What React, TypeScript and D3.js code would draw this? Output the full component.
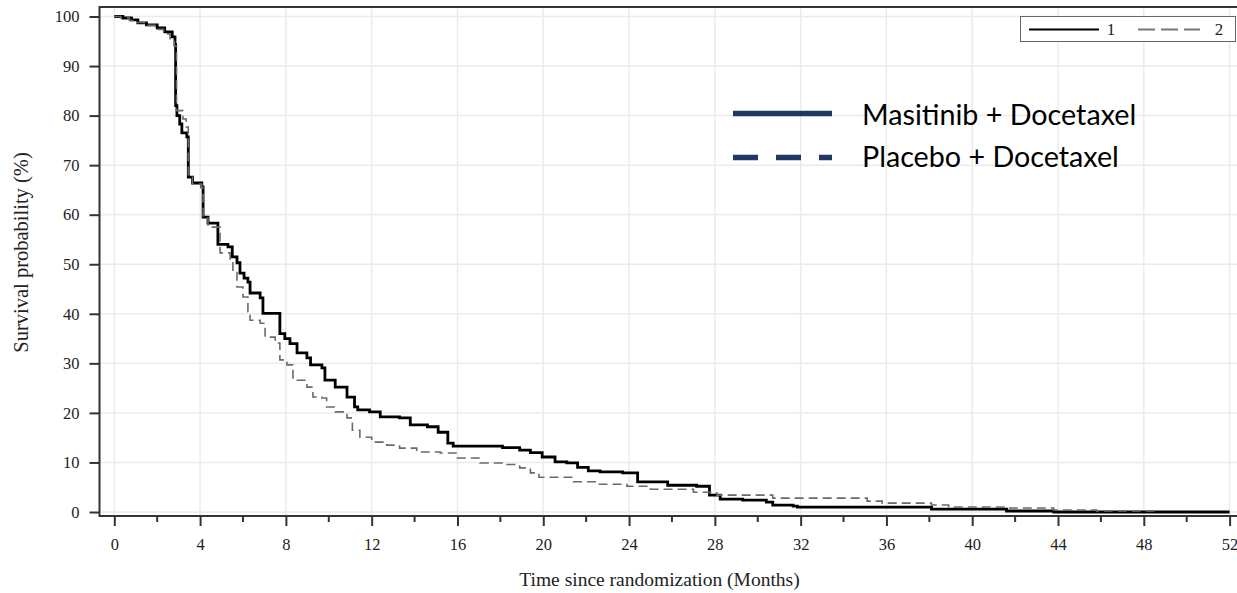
import { useRef, useEffect } from 'react';
import * as d3 from 'd3';

// Kaplan-Meier steps (months, survival %)
const masTime = [0, 0.4, 0.8, 1.1, 1.5, 2.0, 2.35, 2.7, 2.83, 2.86, 2.92, 3.05, 3.15, 3.38, 3.45, 3.65, 4.08, 4.14, 4.37, 4.83, 5.3, 5.5, 5.72, 5.86, 6.05, 6.23, 6.33, 6.8, 6.93, 7.72, 7.95, 8.19, 8.52, 8.98, 9.15, 9.68, 9.82, 10.3, 10.85, 11.2, 11.35, 11.9, 12.4, 13.3, 13.8, 14.6, 15.1, 15.55, 15.8, 18.1, 18.9, 19.4, 19.95, 20.55, 21.1, 21.6, 22.1, 22.65, 23.7, 24.4, 25.8, 27.15, 27.75, 28.25, 29.3, 30.4, 30.7, 31.65, 31.85, 38.1, 41.6, 43.8, 52];
const masSurv = [100, 99.7, 99.3, 98.7, 98.3, 97.7, 96.9, 95.9, 94.3, 82, 80, 78.3, 76.5, 75.7, 67.6, 66.4, 65.6, 59.5, 58.3, 54, 53.5, 51.5, 50.3, 48.2, 47.2, 46.4, 44.2, 43.2, 40.1, 36, 35, 34, 32.1, 31.1, 29.7, 29.1, 26.6, 25.2, 23.2, 21.2, 20.6, 20.2, 19.2, 19.0, 17.6, 17.2, 16.1, 13.9, 13.3, 13.0, 12.5, 12.0, 11.1, 10.1, 9.9, 9.0, 8.3, 8.1, 7.9, 6.1, 5.4, 5.2, 3.4, 2.6, 2.4, 2.0, 1.4, 1.2, 1.0, 0.6, 0.2, 0, 0];

const pboTime = [0, 0.3, 0.7, 1.0, 1.4, 1.9, 2.3, 2.6, 2.8, 2.9, 3.2, 3.35, 3.45, 3.65, 4.08, 4.14, 4.37, 4.93, 5.4, 5.53, 5.72, 6.0, 6.23, 6.33, 6.8, 7.03, 7.5, 7.72, 8.05, 8.33, 8.98, 9.26, 9.68, 9.9, 10.3, 10.85, 11.1, 11.45, 12.0, 12.7, 13.3, 14.1, 15.2, 16.0, 17.05, 18.2, 18.9, 19.4, 19.8, 21.4, 22.5, 23.9, 25.0, 27.0, 27.8, 28.1, 30.7, 35.1, 35.8, 38.1, 38.9, 41.6, 43.8, 45.8, 48.5];
const pboSurv = [100, 99.7, 99.2, 98.8, 98.2, 97.4, 96.5, 95.5, 94.0, 81.0, 79.3, 77.7, 68.0, 66.2, 65.4, 59.3, 57.5, 52.3, 50.5, 48.8, 45.4, 43.4, 40.4, 38.7, 38.1, 35.3, 34.1, 30.7, 29.7, 26.6, 25.2, 23.2, 23.0, 21.2, 20.2, 19.0, 16.5, 15.1, 14.1, 13.5, 12.9, 12.1, 11.9, 10.9, 9.9, 9.6, 8.9, 7.9, 7.0, 6.1, 5.6, 5.2, 4.6, 4.0, 3.8, 3.4, 2.8, 2.2, 1.8, 1.4, 1.0, 0.8, 0.4, 0.2, 0.2];

const xTickValues = [0, 4, 8, 12, 16, 20, 24, 28, 32, 36, 40, 44, 48, 52];
const xMinorValues = [2, 6, 10, 14, 18, 22, 26, 30, 34, 38, 42, 46, 50];
const yTickValues = [0, 10, 20, 30, 40, 50, 60, 70, 80, 90, 100];
const groupLabels = ['1', '2'];
const armLabels = ['Masitinib + Docetaxel', 'Placebo + Docetaxel'];

const SERIF = '"Liberation Serif", "Times New Roman", serif';
const NAVY = '#203864';

function SurvivalChart() {
  const svgRef = useRef<SVGSVGElement>(null);
  const width = 1237;
  const height = 593;

  useEffect(() => {
    const svg = d3.select(svgRef.current);
    svg.selectAll('*').remove();

    const frame = { left: 99.5, top: 7, right: 1237, bottom: 516 };

    const x = d3.scaleLinear().domain([0, 52]).range([114.3, 1229.6]);
    const y = d3.scaleLinear().domain([0, 100]).range([512, 16.5]);

    // grid
    svg
      .append('g')
      .selectAll('line')
      .data(xTickValues)
      .join('line')
      .attr('x1', (d) => x(d))
      .attr('x2', (d) => x(d))
      .attr('y1', frame.top)
      .attr('y2', frame.bottom)
      .attr('stroke', '#ebebeb')
      .attr('stroke-width', 1.5);

    svg
      .append('g')
      .selectAll('line')
      .data(yTickValues)
      .join('line')
      .attr('x1', frame.left)
      .attr('x2', frame.right)
      .attr('y1', (d) => y(d))
      .attr('y2', (d) => y(d))
      .attr('stroke', '#ebebeb')
      .attr('stroke-width', 1.5);

    // curves
    const line = d3
      .line<[number, number]>()
      .x((d) => x(d[0]))
      .y((d) => y(d[1]))
      .curve(d3.curveStepAfter);

    const mas = masTime.map((t, i) => [t, masSurv[i]] as [number, number]);
    const pbo = pboTime.map((t, i) => [t, pboSurv[i]] as [number, number]);

    svg
      .append('path')
      .datum(mas)
      .attr('d', line)
      .attr('fill', 'none')
      .attr('stroke', '#000')
      .attr('stroke-width', 2.8);

    svg
      .append('path')
      .datum(pbo)
      .attr('d', line)
      .attr('fill', 'none')
      .attr('stroke', '#6a6a6a')
      .attr('stroke-width', 1.6)
      .attr('stroke-dasharray', '9,5');

    // axes
    const xAxis = svg
      .append('g')
      .attr('transform', `translate(0,${frame.bottom})`)
      .call(
        d3
          .axisBottom(x)
          .tickValues(xTickValues)
          .tickSize(10)
          .tickPadding(12)
          .tickSizeOuter(0)
      );
    xAxis.select('.domain').remove();
    xAxis.selectAll('line').attr('stroke', '#333').attr('stroke-width', 2);
    xAxis
      .selectAll('text')
      .attr('font-family', SERIF)
      .attr('font-size', 16.5)
      .attr('fill', '#222');

    svg
      .append('g')
      .selectAll('line')
      .data(xMinorValues)
      .join('line')
      .attr('x1', (d) => x(d))
      .attr('x2', (d) => x(d))
      .attr('y1', frame.bottom)
      .attr('y2', frame.bottom + 6)
      .attr('stroke', '#333')
      .attr('stroke-width', 2);

    const yAxis = svg
      .append('g')
      .attr('transform', `translate(${frame.left},0)`)
      .call(
        d3
          .axisLeft(y)
          .tickValues(yTickValues)
          .tickSize(10)
          .tickPadding(10)
          .tickSizeOuter(0)
      );
    yAxis.select('.domain').remove();
    yAxis.selectAll('line').attr('stroke', '#333').attr('stroke-width', 2);
    yAxis
      .selectAll('text')
      .attr('font-family', SERIF)
      .attr('font-size', 16.5)
      .attr('fill', '#222');

    // frame
    svg
      .append('path')
      .attr(
        'd',
        `M${frame.right},${frame.top}H${frame.left}V${frame.bottom}H${frame.right}`
      )
      .attr('fill', 'none')
      .attr('stroke', '#333')
      .attr('stroke-width', 2);

    // axis titles
    svg
      .append('text')
      .attr('x', 659.5)
      .attr('y', 586)
      .attr('text-anchor', 'middle')
      .attr('font-family', SERIF)
      .attr('font-size', 19.5)
      .attr('fill', '#222')
      .text('Time since randomization (Months)');

    svg
      .append('text')
      .attr('transform', 'translate(28,252.5) rotate(-90)')
      .attr('text-anchor', 'middle')
      .attr('font-family', SERIF)
      .attr('font-size', 20.5)
      .attr('fill', '#222')
      .text('Survival probability (%)');

    // small SAS legend box
    const box = svg.append('g');
    box
      .append('rect')
      .attr('x', 1020.5)
      .attr('y', 16.5)
      .attr('width', 215)
      .attr('height', 25)
      .attr('fill', '#fff')
      .attr('stroke', '#666')
      .attr('stroke-width', 1);
    box
      .append('line')
      .attr('x1', 1029)
      .attr('x2', 1099)
      .attr('y1', 29.5)
      .attr('y2', 29.5)
      .attr('stroke', '#000')
      .attr('stroke-width', 2);
    box
      .append('line')
      .attr('x1', 1138)
      .attr('x2', 1200)
      .attr('y1', 29.5)
      .attr('y2', 29.5)
      .attr('stroke', '#777')
      .attr('stroke-width', 2)
      .attr('stroke-dasharray', '17,6');
    box
      .selectAll('text')
      .data(groupLabels)
      .join('text')
      .attr('x', (d, i) => [1111, 1219][i])
      .attr('y', 34.5)
      .attr('text-anchor', 'middle')
      .attr('font-family', SERIF)
      .attr('font-size', 17)
      .attr('fill', '#222')
      .text((d) => d);

    // overlaid treatment legend
    const leg = svg.append('g');
    leg
      .append('line')
      .attr('x1', 733)
      .attr('x2', 832)
      .attr('y1', 113.5)
      .attr('y2', 113.5)
      .attr('stroke', NAVY)
      .attr('stroke-width', 5.5);
    leg
      .append('line')
      .attr('x1', 733)
      .attr('x2', 832)
      .attr('y1', 157.5)
      .attr('y2', 157.5)
      .attr('stroke', NAVY)
      .attr('stroke-width', 5.5)
      .attr('stroke-dasharray', '25,18');
    leg
      .selectAll('text')
      .data(armLabels)
      .join('text')
      .attr('x', 862)
      .attr('y', (d, i) => [124.5, 167][i])
      .attr('font-family', 'Lato, "Open Sans", sans-serif')
      .attr('font-size', 28.7)
      .attr('fill', '#000')
      .text((d) => d);
  }, []);

  return (
    <svg
      ref={svgRef}
      width={width}
      height={height}
      style={{ position: 'absolute', left: 0, top: 0, background: '#fff' }}
    ></svg>
  );
}

export default function App() {
  return <SurvivalChart />;
}
